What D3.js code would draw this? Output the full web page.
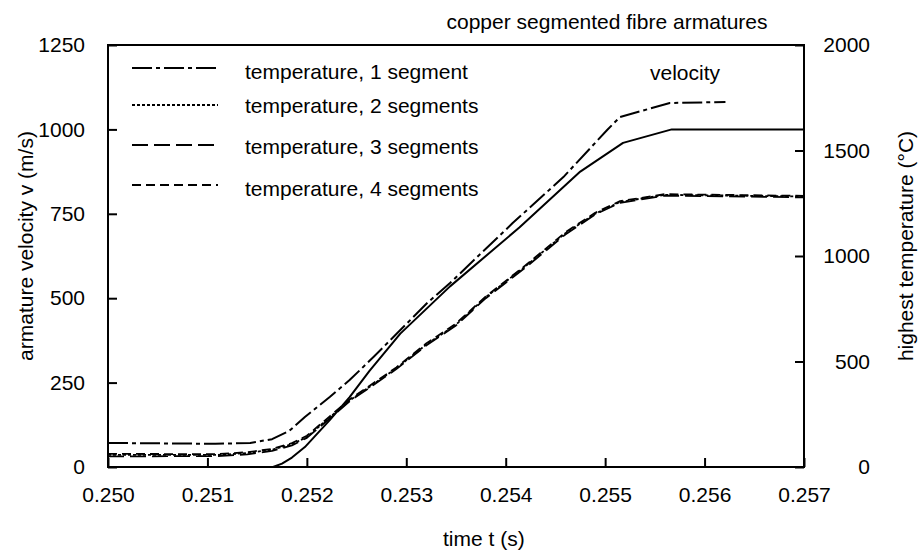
<!DOCTYPE html>
<html>
<head>
<meta charset="utf-8">
<script src="https://cdn.jsdelivr.net/npm/d3@7"></script>
<style>
  html, body { margin: 0; padding: 0; background: #fff; }
  svg { display: block; }
  text { font-family: "Liberation Sans", Arial, sans-serif; fill: #000; }
</style>
</head>
<body>
<svg id="chart" width="922" height="550"></svg>
<script>
// ---- data ----
const xTickValues = [0.250, 0.251, 0.252, 0.253, 0.254, 0.255, 0.256, 0.257];
const xTickLabels = ["0.250", "0.251", "0.252", "0.253", "0.254", "0.255", "0.256", "0.257"];
const leftTickValues = [0, 250, 500, 750, 1000, 1250];
const rightTickValues = [0, 500, 1000, 1500, 2000];

// velocity (m/s), left axis
const timeV    = [0.25166, 0.25175, 0.25185, 0.25198, 0.25223, 0.25243, 0.25263, 0.25294, 0.25344, 0.25414, 0.25475, 0.25518, 0.25567, 0.25700];
const velocity = [0,       10,      28,      59,      139,     207,     285,     395,     535,     710,     875,     960,     1000,    1000];

// temperature, 1 segment (degC), right axis
const timeT1 = [0.25000, 0.25108, 0.25143, 0.25165, 0.25182, 0.25198, 0.25223, 0.25243, 0.25267, 0.25294, 0.25321, 0.25344, 0.25407, 0.25458, 0.25502, 0.25515, 0.25565, 0.25621];
const temp1  = [114,     110,     114,     132,     170,     237,     332,     412,     521,     649,     777,     872,     1156,    1374,    1597,    1659,    1725,    1730];

// temperature, 2 / 3 / 4 segments (degC), right axis
const timeT = [0.25000, 0.25110, 0.25140, 0.25165, 0.25185, 0.25200, 0.25223, 0.25243, 0.25260, 0.25290, 0.25320, 0.25350, 0.25380, 0.25420, 0.25460, 0.25490, 0.25515, 0.25560, 0.25700];
const temp2 = [57,      57,      66,      82,      108,     142,     235,     315,     370,     468,     580,     675,     805,     952,     1108,    1200,    1256,    1290,    1282];
const temp3 = [50,      52,      60,      76,      102,     138,     230,     312,     366,     464,     576,     671,     800,     946,     1102,    1197,    1252,    1286,    1278];
const temp4 = [62,      61,      70,      86,      113,     148,     240,     320,     375,     472,     585,     680,     808,     956,     1112,    1205,    1260,    1293,    1285];

const legendLabels = ["temperature, 1 segment", "temperature, 2 segments", "temperature, 3 segments", "temperature, 4 segments"];
const titleText = "copper segmented fibre armatures";

// ---- drawing ----
const svg = d3.select("#chart");
const L = 108, R = 804, T = 45, B = 467;

const x  = d3.scaleLinear().domain([0.250, 0.257]).range([L, R]);
const yL = d3.scaleLinear().domain([0, 1250]).range([B, T]);
const yR = d3.scaleLinear().domain([0, 2000]).range([B, T]);

const fs = 21;
const ff = "Liberation Sans, Arial, sans-serif";

// axes
const gx = svg.append("g").attr("transform", `translate(0,${B})`)
  .call(d3.axisBottom(x).tickValues(xTickValues).tickFormat((d, i) => xTickLabels[i]).tickSize(-9).tickPadding(20));
const gl = svg.append("g").attr("transform", `translate(${L},0)`)
  .call(d3.axisLeft(yL).tickValues(leftTickValues).tickFormat(d3.format("d")).tickSize(-9).tickPadding(23));
const gr = svg.append("g").attr("transform", `translate(${R},0)`)
  .call(d3.axisRight(yR).tickValues(rightTickValues).tickFormat(d3.format("d")).tickSize(-9).tickPadding(66));
gr.selectAll("text").attr("text-anchor", "end");

[gx, gl, gr].forEach(g => {
  g.select(".domain").remove();
  g.selectAll("line").attr("stroke", "#000").attr("stroke-width", 2);
  g.selectAll("text").attr("font-family", ff).attr("font-size", fs).attr("fill", "#000");
});

// frame
svg.append("rect").attr("x", L).attr("y", T).attr("width", R - L).attr("height", B - T)
  .attr("fill", "none").attr("stroke", "#000").attr("stroke-width", 2);

// lines
const series = [
  { t: timeV,  v: velocity, y: yL, dash: null,           w: 2.0 },
  { t: timeT1, v: temp1,    y: yR, dash: "20,4,4,4",     w: 2.0 },
  { t: timeT,  v: temp2,    y: yR, dash: "3,2",          w: 1.8 },
  { t: timeT,  v: temp3,    y: yR, dash: "16,6",         w: 1.8 },
  { t: timeT,  v: temp4,    y: yR, dash: "9,5",          w: 1.8 }
];
series.forEach(s => {
  const line = d3.line().x((d, i) => x(s.t[i])).y(d => s.y(d)).curve(d3.curveLinear);
  svg.append("path").datum(s.v).attr("d", line)
    .attr("fill", "none").attr("stroke", "#000").attr("stroke-width", s.w)
    .attr("stroke-dasharray", s.dash).attr("stroke-linejoin", "round");
});

// legend
const legendDash = ["20,4,4,4", "3,2", "16,6", "9,5"];
const legendLineY = [68, 105, 145, 185];
const legendTextY = [79, 113, 154, 196];
legendLabels.forEach((lab, i) => {
  svg.append("line").attr("x1", 132).attr("x2", 218).attr("y1", legendLineY[i]).attr("y2", legendLineY[i])
    .attr("stroke", "#000").attr("stroke-width", 2).attr("stroke-dasharray", legendDash[i]);
  svg.append("text").attr("x", 245).attr("y", legendTextY[i]).attr("font-size", fs).text(lab);
});

// annotations
svg.append("text").attr("x", 607).attr("y", 29).attr("text-anchor", "middle").attr("font-size", fs).text(titleText);
svg.append("text").attr("x", 685).attr("y", 80).attr("text-anchor", "middle").attr("font-size", fs).text("velocity");
svg.append("text").attr("x", 443).attr("y", 546).attr("font-size", fs).text("time t (s)");
svg.append("text").attr("transform", "translate(33,246) rotate(-90)").attr("text-anchor", "middle").attr("font-size", fs)
  .text("armature velocity v (m/s)");
svg.append("text").attr("transform", "translate(913,246) rotate(-90)").attr("text-anchor", "middle").attr("font-size", fs)
  .text("highest temperature  (°C)");
</script>
</body>
</html>
